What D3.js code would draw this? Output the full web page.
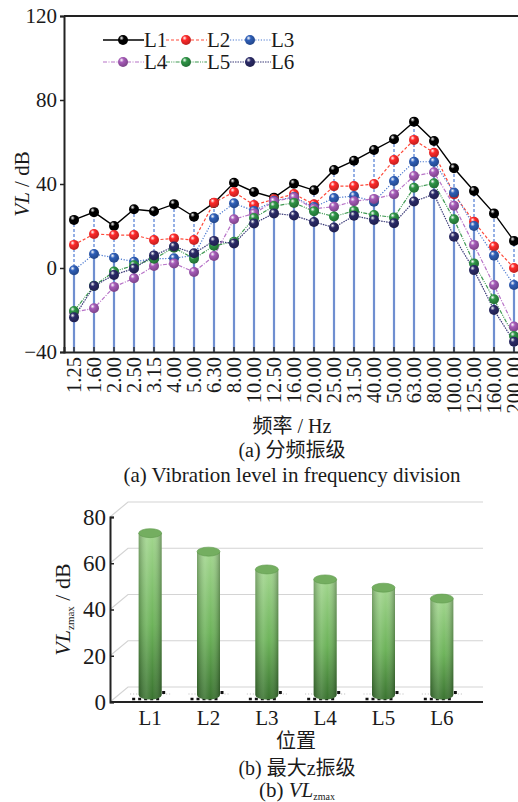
<!DOCTYPE html>
<html><head><meta charset="utf-8">
<script src="https://cdn.jsdelivr.net/npm/d3@7"></script>
<style>
body{margin:0;background:#fff;}
svg{display:block;}
text{font-family:"Liberation Serif","Times New Roman","Noto Sans CJK SC",serif;fill:#1a1a1a;}
</style>
</head><body>
<svg id="c" width="518" height="802"></svg>
<script>
// ---------- data ----------
const freqs = ["1.25","1.60","2.00","2.50","3.15","4.00","5.00","6.30","8.00","10.00","12.50","16.00","20.00","25.00","31.50","40.00","50.00","63.00","80.00","100.00","125.00","160.00","200.00"];
const seriesNames = ["L1","L2","L3","L4","L5","L6"];
const L1 = [22.9,26.6,20.0,28.0,27.0,30.4,24.4,31.0,40.6,36.2,33.5,40.1,37.0,46.7,51.1,56.2,61.3,69.7,60.5,47.5,36.7,26.0,12.9];
const L2 = [11.0,16.2,15.7,15.7,13.3,14.1,13.3,31.1,36.2,30.0,32.7,35.2,30.3,39.0,39.0,40.0,51.4,61.0,54.9,35.1,22.0,10.2,0.0];
const L3 = [-1.1,6.7,4.9,3.0,4.4,4.6,6.0,23.7,30.8,27.2,32.0,33.8,29.0,33.3,34.3,31.6,41.4,50.6,50.6,35.9,20.0,5.9,-8.1];
const L4 = [-21.0,-19.2,-9.0,-4.9,1.0,2.2,-1.9,5.7,23.2,26.0,31.7,33.6,28.2,29.2,31.8,32.9,35.1,43.8,45.6,29.7,11.0,-8.1,-27.9];
const L5 = [-20.5,-8.5,-1.7,1.3,4.4,9.7,4.4,10.6,12.5,23.8,29.5,31.0,27.0,24.5,27.2,25.2,24.1,38.2,40.3,23.2,2.2,-14.9,-32.4];
const L6 = [-23.5,-8.6,-3.3,-0.2,6.0,10.2,7.0,12.9,11.7,21.2,26.0,25.0,21.9,19.3,24.9,22.9,21.3,31.7,35.1,14.9,-1.0,-20.0,-35.1];
const yTicksA = [-40,0,40,80,120];

const positions = ["L1","L2","L3","L4","L5","L6"];
const vlzmax = [70.0,62.0,54.3,50.0,46.4,41.7];
const yTicksB = [0,20,40,60,80];

// ---------- styles ----------
const colors = ["#000000","#ff2a2a","#2f5fb8","#a65bb8","#2e9446","#2b2b68"];
const lineColors = ["#000000","#ff4a3a","#4a78d0","#b874c8","#3f9a52","#3a3a78"];
const dashes = [null,"3,2","1.2,1.6","4,1.5,1,1.5","4,1.2,1,1.2,1,1.2","1.5,1"];
const seriesData = [L1,L2,L3,L4,L5,L6];

const svg = d3.select("#c");
const defs = svg.append("defs");
colors.forEach((c,i)=>{
  const g = defs.append("radialGradient").attr("id","ball"+i)
    .attr("cx","0.38").attr("cy","0.35").attr("r","0.65").attr("fx","0.35").attr("fy","0.3");
  g.append("stop").attr("offset","0%").attr("stop-color","#ffffff").attr("stop-opacity",0.95);
  g.append("stop").attr("offset","35%").attr("stop-color",c);
  g.append("stop").attr("offset","100%").attr("stop-color",d3.color(c).darker(0.8));
});

// ---------- chart (a) ----------
const aL=64, aR=524, aT=16, aB=352;
const x = d3.scaleBand().domain(freqs).range([aL,aR]);
const y = d3.scaleLinear().domain([-40,120]).range([aB,aT]);
const cx = f => x(f) + x.bandwidth()/2;

const ga = svg.append("g");
// drop lines
freqs.forEach((f,i)=>{
  ga.append("line").attr("x1",cx(f)).attr("x2",cx(f)).attr("y1",y(-40)).attr("y2",y(L1[i]))
    .attr("stroke","#3f6fd0").attr("stroke-width",1.1).attr("stroke-dasharray","3,2");
  ga.append("line").attr("x1",cx(f)).attr("x2",cx(f)).attr("y1",y(-40)).attr("y2",y(L3[i]))
    .attr("stroke","#6f8fd0").attr("stroke-width",2.2);
});
// lines
const line = d3.line().x((d,i)=>cx(freqs[i])).y(d=>y(d));
seriesData.forEach((s,k)=>{
  ga.append("path").attr("d",line(s)).attr("fill","none")
    .attr("stroke",lineColors[k]).attr("stroke-width",k===0?1.4:1.2)
    .attr("stroke-dasharray",dashes[k]);
});
seriesData.forEach((s,k)=>{
  ga.selectAll(null).data(s).enter().append("circle")
    .attr("cx",(d,i)=>cx(freqs[i])).attr("cy",d=>y(d)).attr("r",5)
    .attr("fill","url(#ball"+k+")");
});
// axes frame
ga.append("line").attr("x1",aL).attr("x2",aR).attr("y1",aT).attr("y2",aT).attr("stroke","#222").attr("stroke-width",2);
const yAx = ga.append("g").attr("transform",`translate(${aL},0)`)
  .call(d3.axisLeft(y).tickValues(yTicksA).tickSize(4).tickPadding(3));
yAx.select(".domain").attr("stroke","#222").attr("stroke-width",2);
yAx.selectAll(".tick line").attr("stroke","#222").attr("stroke-width",1.5);
yAx.selectAll("text").attr("font-size",21).attr("font-family","Liberation Serif");
const xAx = ga.append("g").attr("transform",`translate(0,${aB})`)
  .call(d3.axisBottom(x).tickSize(-5).tickPadding(0));
xAx.select(".domain").attr("stroke","#222").attr("stroke-width",2);
xAx.selectAll(".tick line").attr("stroke","#333").attr("stroke-width",1.5);
xAx.selectAll("text").attr("font-size",20.5).attr("font-family","Liberation Serif")
  .attr("text-anchor","end").attr("dy","0.33em").attr("y",0)
  .attr("transform","translate(0,5) rotate(-90)");

// legend
const legX=[103,166,230], legY=[40,62];
seriesNames.forEach((n,k)=>{
  const lx=legX[k%3], ly=legY[Math.floor(k/3)];
  ga.append("line").attr("x1",lx).attr("x2",lx+41).attr("y1",ly).attr("y2",ly)
    .attr("stroke",lineColors[k]).attr("stroke-width",k===0?1.4:1.2).attr("stroke-dasharray",dashes[k]);
  ga.append("circle").attr("cx",lx+20).attr("cy",ly).attr("r",5).attr("fill","url(#ball"+k+")");
  ga.append("text").attr("x",lx+41).attr("y",ly+7).attr("font-size",21).text(n);
});

// titles (a)
const ty = ga.append("text").attr("transform",`translate(29,${(aT+aB)/2}) rotate(-90)`)
  .attr("text-anchor","middle").attr("font-size",21);
ty.append("tspan").attr("font-style","italic").text("VL");
ty.append("tspan").text(" / dB");
ga.append("text").attr("x",292).attr("y",433).attr("text-anchor","middle").attr("font-size",20).text("频率 / Hz");
ga.append("text").attr("x",292).attr("y",457).attr("text-anchor","middle").attr("font-size",20).text("(a) 分频振级");
ga.append("text").attr("x",292).attr("y",482).attr("text-anchor","middle").attr("font-size",21).text("(a) Vibration level in frequency division");

// ---------- chart (b) ----------
const bL=110, bR=483, bT=517, bB=702, dX=18, dY=15;
const yb = d3.scaleLinear().domain([0,80]).range([bB,bT]);
const xb = d3.scaleBand().domain(positions).range([121,471]);
const gb = svg.append("g");

// back wall grid
yTicksB.forEach(t=>{
  gb.append("path").attr("d",`M${bL},${yb(t)}L${bL+dX},${yb(t)-dY}L${bR},${yb(t)-dY}`)
    .attr("fill","none").attr("stroke","#d4d4d4").attr("stroke-width",1.2);
});

// gradients for cylinders
const gv = defs.append("linearGradient").attr("id","cylV").attr("x1",0).attr("y1",0).attr("x2",0).attr("y2",1);
gv.append("stop").attr("offset","0%").attr("stop-color","#a2d68e");
gv.append("stop").attr("offset","55%").attr("stop-color","#6db35a");
gv.append("stop").attr("offset","100%").attr("stop-color","#3a7330");
const gh = defs.append("linearGradient").attr("id","cylH").attr("x1",0).attr("y1",0).attr("x2",1).attr("y2",0);
gh.append("stop").attr("offset","0%").attr("stop-color","#000").attr("stop-opacity",0.25);
gh.append("stop").attr("offset","35%").attr("stop-color","#fff").attr("stop-opacity",0.12);
gh.append("stop").attr("offset","60%").attr("stop-color","#fff").attr("stop-opacity",0.0);
gh.append("stop").attr("offset","100%").attr("stop-color","#000").attr("stop-opacity",0.3);

const cw=23, ry=4.5, lift=7;
positions.forEach((p,i)=>{
  const c = xb(p)+xb.bandwidth()/2;
  const base = yb(0)-lift, top = yb(vlzmax[i])-lift;
  gb.append("line").attr("x1",c-18).attr("x2",c+10).attr("y1",base+4).attr("y2",base+4)
    .attr("stroke","#111").attr("stroke-width",2.5).attr("stroke-dasharray","3,3");
  gb.append("line").attr("x1",c-20).attr("x2",c+22).attr("y1",base-1).attr("y2",base-1)
    .attr("stroke","#bbb").attr("stroke-width",1).attr("stroke-dasharray","1,2");
  gb.append("rect").attr("x",c+12).attr("y",base-4).attr("width",3).attr("height",3).attr("fill","#111");
  const d = `M${c-cw/2},${top}L${c-cw/2},${base}A${cw/2},${ry},0,0,0,${c+cw/2},${base}L${c+cw/2},${top}Z`;
  gb.append("path").attr("d",d).attr("fill","url(#cylV)");
  gb.append("path").attr("d",d).attr("fill","url(#cylH)");
  gb.append("ellipse").attr("cx",c).attr("cy",top).attr("rx",cw/2).attr("ry",ry)
    .attr("fill","#74ae60").attr("stroke","#5f9a4e").attr("stroke-width",0.6);
});

const ybAx = gb.append("g").attr("transform",`translate(${bL},0)`)
  .call(d3.axisLeft(yb).tickValues(yTicksB).tickSize(-4).tickPadding(4));
ybAx.select(".domain").attr("stroke","#222").attr("stroke-width",2);
ybAx.selectAll(".tick line").attr("stroke","#222").attr("stroke-width",1.5);
ybAx.selectAll("text").attr("font-size",23).attr("font-family","Liberation Serif");
const xbAx = gb.append("g").attr("transform",`translate(0,${bB})`)
  .call(d3.axisBottom(xb).tickSize(0).tickPadding(8));
xbAx.select(".domain").attr("d",`M${bL},0H${bR}`).attr("stroke","#222").attr("stroke-width",2);
xbAx.selectAll("text").attr("font-size",21).attr("font-family","Liberation Serif");

const tyb = gb.append("text").attr("transform",`translate(70,${(bT+bB)/2}) rotate(-90)`)
  .attr("text-anchor","middle").attr("font-size",22);
tyb.append("tspan").attr("font-style","italic").text("VL");
tyb.append("tspan").attr("font-size",11).attr("dy",4).text("zmax");
tyb.append("tspan").attr("dy",-4).text(" / dB");
gb.append("text").attr("x",296).attr("y",748).attr("text-anchor","middle").attr("font-size",20).text("位置");
gb.append("text").attr("x",297).attr("y",775).attr("text-anchor","middle").attr("font-size",20).text("(b) 最大z振级");
const cap = gb.append("text").attr("x",297).attr("y",797).attr("text-anchor","middle").attr("font-size",21);
cap.append("tspan").text("(b) ");
cap.append("tspan").attr("font-style","italic").text("VL");
cap.append("tspan").attr("font-size",10).attr("dy",3).text("zmax");
</script>
</body></html>
